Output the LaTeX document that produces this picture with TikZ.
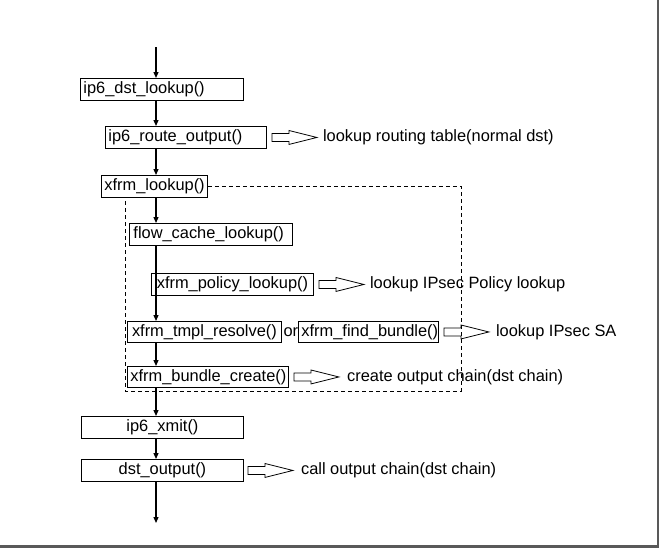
\documentclass[tikz,border=0pt]{standalone}
\usepackage{fontspec}
\setmainfont{Liberation Sans}
\usetikzlibrary{arrows.meta}
\begin{document}
\begin{tikzpicture}[x=1pt,y=-1pt,
  fbox/.style={draw, line width=0.9pt, anchor=north west, minimum height=22pt,
    inner xsep=3pt, inner ysep=0pt, text height=11.8pt, text depth=3.5pt,
    font=\fontsize{16.4}{19}\selectfont},
  lbl/.style={anchor=west, inner sep=0pt, text height=11.8pt, text depth=3.5pt,
    font=\fontsize{16.4}{19}\selectfont},
  flow/.style={line width=1.2pt, -{Triangle[length=6pt,width=5pt]}},
  dashbox/.style={line width=0.9pt, dash pattern=on 4pt off 3pt},
  harrow/.pic={\draw[line width=0.8pt] (0,-4) -- (17,-4) -- (17,-7) -- (45,0) -- (17,7) -- (17,4) -- (0,4) -- cycle;}
]
\useasboundingbox (0,0) rectangle (662,550);

% frame shadow
\draw[line width=2.5pt, black!65] (658,0) -- (658,546.5) -- (0,546.5);

\coordinate (mx) at (156,0);
\coordinate (dl) at (125,0);
\coordinate (top) at (156,47);
\coordinate (bot) at (156,523);
\coordinate (dr) at (461,391);

\node[fbox, text width=157pt, align=left] (b1) at (80,78) {ip6\_dst\_lookup()};
\node[fbox, text width=155pt, align=left] (b2) at (105,126) {ip6\_route\_output()};
\node[fbox, text width=100pt, align=center] (b3) at (101,175) {xfrm\_lookup()};
\node[fbox, text width=155pt, inner xsep=4pt, align=left] (b4) at (129,223) {flow\_cache\_lookup()};
\node[fbox, text width=156pt, align=center] (b5) at (151,273) {xfrm\_policy\_lookup()};
\node[fbox, minimum height=21pt, text width=148pt, align=center] (b6) at (127,321) {xfrm\_tmpl\_resolve()};
\node[fbox, minimum height=21pt, text width=134pt, align=center] (b7) at (298,321) {xfrm\_find\_bundle()};
\node[fbox, minimum height=21pt, text width=155pt, align=center] (b8) at (127,366) {xfrm\_bundle\_create()};
\node[fbox, text width=156pt, align=center] (b9) at (81,416) {ip6\_xmit()};
\node[fbox, text width=156pt, align=center] (b10) at (81,459) {dst\_output()};

\node[lbl] (or) at ([xshift=1.5pt]b6.east) {or};

% dashed region
\draw[dashbox] (b3.east) -| (dr) -| (b3.south -| dl);

% main flow
\draw[flow] (top) -- (b1.north -| mx);
\draw[flow] (b1.south -| mx) -- (b2.north -| mx);
\draw[flow] (b2.south -| mx) -- (b3.north -| mx);
\draw[flow] (b3.south -| mx) -- (b4.north -| mx);
\draw[flow] (b4.south -| mx) -- (b6.north -| mx);
\draw[flow] (b6.south -| mx) -- (b8.north -| mx);
\draw[flow] (b8.south -| mx) -- (b9.north -| mx);
\draw[flow] (b9.south -| mx) -- (b10.north -| mx);
\draw[flow] (b10.south -| mx) -- (bot);

% hollow arrows and notes
\pic at ([xshift=5pt]b2.east) {harrow};
\node[lbl] (n2) at ([xshift=56pt]b2.east) {lookup routing table(normal dst)};
\pic at ([xshift=5pt]b5.east) {harrow};
\node[lbl] (n5) at ([xshift=56pt]b5.east) {lookup IPsec Policy lookup};
\pic at ([xshift=5pt]b7.east) {harrow};
\node[lbl] (n7) at ([xshift=57pt]b7.east) {lookup IPsec SA};
\pic at ([xshift=5pt]b8.east) {harrow};
\node[lbl] (n8) at ([xshift=58pt]b8.east) {create output chain(dst chain)};
\pic at ([xshift=4pt]b10.east) {harrow};
\node[lbl] (n10) at ([xshift=57pt]b10.east) {call output chain(dst chain)};
\end{tikzpicture}
\end{document}
